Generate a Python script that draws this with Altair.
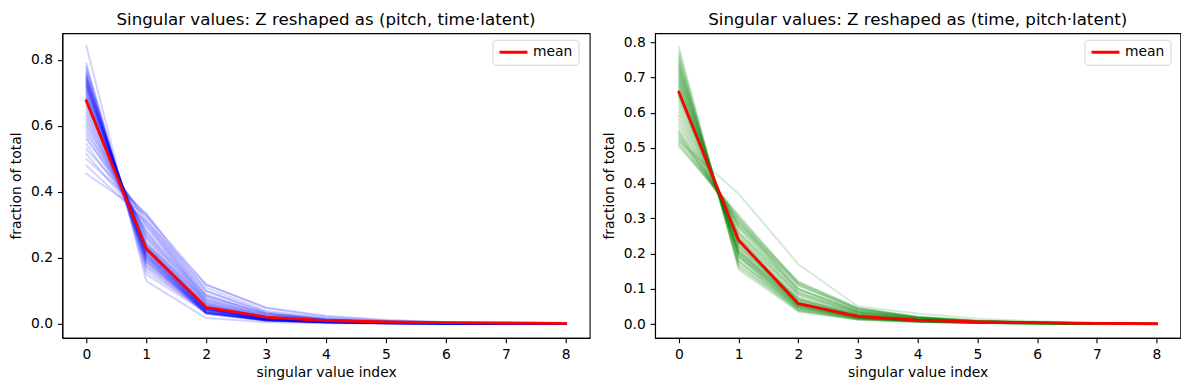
import altair as alt
import pandas as pd

sv_index = [0, 1, 2, 3, 4, 5, 6, 7, 8]
x_ticks = [0, 1, 2, 3, 4, 5, 6, 7, 8]
left_y_ticks = [0.0, 0.2, 0.4, 0.6, 0.8]
right_y_ticks = [0.0, 0.1, 0.2, 0.3, 0.4, 0.5, 0.6, 0.7, 0.8]

left_title = "Singular values: Z reshaped as (pitch, time·latent)"
right_title = "Singular values: Z reshaped as (time, pitch·latent)"
x_title = "singular value index"
y_title = "fraction of total"

# per-sample curves, Z reshaped as (pitch, time·latent)
pitch_runs = [
    [0.843, 0.130, 0.018, 0.005, 0.002, 0.001, 0.0006, 0.0003, 0.0001],
    [0.790, 0.150, 0.035, 0.012, 0.006, 0.003, 0.002, 0.001, 0.0005],
    [0.780, 0.170, 0.032, 0.010, 0.004, 0.002, 0.001, 0.0007, 0.0003],
    [0.775, 0.160, 0.040, 0.013, 0.006, 0.003, 0.0015, 0.001, 0.0005],
    [0.765, 0.180, 0.034, 0.011, 0.005, 0.002, 0.0013, 0.0008, 0.0003],
    [0.760, 0.190, 0.031, 0.010, 0.004, 0.002, 0.0012, 0.0007, 0.0003],
    [0.755, 0.175, 0.042, 0.015, 0.007, 0.003, 0.0016, 0.001, 0.0004],
    [0.750, 0.195, 0.034, 0.011, 0.005, 0.0025, 0.0013, 0.0008, 0.0003],
    [0.748, 0.200, 0.032, 0.011, 0.005, 0.002, 0.0012, 0.0007, 0.0003],
    [0.745, 0.185, 0.043, 0.014, 0.006, 0.003, 0.0015, 0.001, 0.0004],
    [0.740, 0.205, 0.035, 0.011, 0.005, 0.002, 0.0012, 0.0007, 0.0003],
    [0.738, 0.190, 0.045, 0.015, 0.006, 0.003, 0.0015, 0.001, 0.0004],
    [0.735, 0.210, 0.034, 0.011, 0.005, 0.0025, 0.0013, 0.0008, 0.0003],
    [0.730, 0.200, 0.044, 0.014, 0.006, 0.003, 0.0015, 0.001, 0.0004],
    [0.728, 0.215, 0.036, 0.012, 0.005, 0.002, 0.0012, 0.0007, 0.0003],
    [0.725, 0.205, 0.045, 0.014, 0.006, 0.003, 0.0014, 0.0009, 0.0004],
    [0.720, 0.220, 0.038, 0.012, 0.005, 0.0025, 0.0013, 0.0008, 0.0003],
    [0.718, 0.210, 0.046, 0.014, 0.006, 0.003, 0.0015, 0.001, 0.0004],
    [0.715, 0.225, 0.037, 0.012, 0.006, 0.0025, 0.0013, 0.0008, 0.0003],
    [0.710, 0.215, 0.048, 0.015, 0.006, 0.003, 0.0015, 0.001, 0.0004],
    [0.705, 0.230, 0.041, 0.013, 0.006, 0.0025, 0.0014, 0.0009, 0.0004],
    [0.700, 0.220, 0.050, 0.016, 0.007, 0.0035, 0.0017, 0.0011, 0.0005],
    [0.695, 0.235, 0.044, 0.014, 0.006, 0.003, 0.0015, 0.001, 0.0004],
    [0.690, 0.225, 0.053, 0.017, 0.008, 0.0035, 0.0018, 0.0011, 0.0005],
    [0.685, 0.240, 0.047, 0.015, 0.007, 0.003, 0.0016, 0.001, 0.0004],
    [0.680, 0.230, 0.056, 0.018, 0.008, 0.004, 0.002, 0.0012, 0.0005],
    [0.675, 0.250, 0.047, 0.015, 0.007, 0.003, 0.0016, 0.001, 0.0004],
    [0.670, 0.235, 0.060, 0.019, 0.008, 0.004, 0.002, 0.0013, 0.0006],
    [0.660, 0.260, 0.050, 0.016, 0.007, 0.0035, 0.0017, 0.0011, 0.0005],
    [0.650, 0.240, 0.068, 0.022, 0.010, 0.005, 0.0025, 0.0015, 0.0007],
    [0.640, 0.270, 0.056, 0.018, 0.008, 0.004, 0.002, 0.0012, 0.0005],
    [0.630, 0.245, 0.075, 0.026, 0.012, 0.006, 0.003, 0.002, 0.0008],
    [0.620, 0.280, 0.062, 0.020, 0.009, 0.0045, 0.0023, 0.0014, 0.0006],
    [0.610, 0.260, 0.080, 0.027, 0.012, 0.006, 0.003, 0.002, 0.0008],
    [0.600, 0.300, 0.062, 0.020, 0.009, 0.0045, 0.0023, 0.0014, 0.0006],
    [0.590, 0.270, 0.085, 0.030, 0.013, 0.006, 0.003, 0.002, 0.001],
    [0.580, 0.310, 0.068, 0.022, 0.010, 0.005, 0.0025, 0.0015, 0.0007],
    [0.570, 0.280, 0.090, 0.032, 0.014, 0.007, 0.0035, 0.002, 0.001],
    [0.560, 0.320, 0.074, 0.024, 0.011, 0.0055, 0.0027, 0.0017, 0.0008],
    [0.545, 0.290, 0.100, 0.035, 0.015, 0.0075, 0.0037, 0.0023, 0.001],
    [0.530, 0.330, 0.085, 0.030, 0.013, 0.006, 0.003, 0.002, 0.001],
    [0.515, 0.300, 0.110, 0.040, 0.018, 0.009, 0.004, 0.0025, 0.001],
    [0.500, 0.335, 0.100, 0.035, 0.015, 0.0075, 0.0037, 0.0023, 0.001],
    [0.480, 0.310, 0.120, 0.048, 0.022, 0.011, 0.005, 0.003, 0.0012],
    [0.455, 0.330, 0.118, 0.050, 0.025, 0.012, 0.006, 0.003, 0.001],
]
pitch_mean = [0.676, 0.228, 0.050, 0.021, 0.010, 0.006, 0.004, 0.003, 0.002]

# per-sample curves, Z reshaped as (time, pitch·latent)
time_runs = [
    [0.786, 0.155, 0.035, 0.012, 0.006, 0.003, 0.002, 0.001, 0.0005],
    [0.775, 0.160, 0.040, 0.014, 0.007, 0.003, 0.002, 0.001, 0.0005],
    [0.765, 0.170, 0.037, 0.013, 0.007, 0.004, 0.002, 0.001, 0.0005],
    [0.758, 0.165, 0.045, 0.016, 0.008, 0.004, 0.002, 0.001, 0.0005],
    [0.752, 0.180, 0.040, 0.014, 0.007, 0.003, 0.002, 0.001, 0.0005],
    [0.745, 0.175, 0.048, 0.017, 0.008, 0.004, 0.002, 0.001, 0.0005],
    [0.740, 0.190, 0.042, 0.015, 0.007, 0.003, 0.002, 0.001, 0.0005],
    [0.735, 0.180, 0.050, 0.018, 0.009, 0.004, 0.002, 0.001, 0.0005],
    [0.730, 0.195, 0.045, 0.016, 0.008, 0.004, 0.002, 0.001, 0.0005],
    [0.725, 0.190, 0.052, 0.019, 0.009, 0.004, 0.002, 0.001, 0.0005],
    [0.720, 0.200, 0.048, 0.017, 0.008, 0.004, 0.002, 0.001, 0.0005],
    [0.715, 0.195, 0.055, 0.020, 0.009, 0.004, 0.002, 0.001, 0.0005],
    [0.710, 0.205, 0.050, 0.018, 0.009, 0.004, 0.002, 0.001, 0.0005],
    [0.705, 0.200, 0.058, 0.021, 0.010, 0.005, 0.003, 0.0015, 0.0005],
    [0.700, 0.210, 0.052, 0.019, 0.009, 0.005, 0.003, 0.0015, 0.0005],
    [0.695, 0.205, 0.060, 0.022, 0.010, 0.005, 0.003, 0.0015, 0.0005],
    [0.690, 0.215, 0.055, 0.020, 0.010, 0.005, 0.003, 0.0015, 0.0005],
    [0.685, 0.210, 0.062, 0.023, 0.011, 0.005, 0.003, 0.0015, 0.0005],
    [0.680, 0.220, 0.058, 0.021, 0.010, 0.005, 0.003, 0.0015, 0.0005],
    [0.675, 0.225, 0.060, 0.022, 0.011, 0.005, 0.003, 0.0015, 0.0005],
    [0.670, 0.230, 0.055, 0.020, 0.010, 0.005, 0.003, 0.0015, 0.0005],
    [0.665, 0.220, 0.070, 0.026, 0.012, 0.006, 0.003, 0.0015, 0.0005],
    [0.660, 0.235, 0.060, 0.022, 0.011, 0.005, 0.003, 0.0015, 0.0005],
    [0.655, 0.230, 0.068, 0.025, 0.012, 0.006, 0.003, 0.0015, 0.0005],
    [0.650, 0.240, 0.062, 0.023, 0.011, 0.005, 0.003, 0.0015, 0.0005],
    [0.645, 0.235, 0.072, 0.027, 0.013, 0.006, 0.003, 0.0015, 0.0005],
    [0.640, 0.245, 0.065, 0.024, 0.012, 0.006, 0.003, 0.0015, 0.0005],
    [0.630, 0.250, 0.070, 0.026, 0.013, 0.006, 0.003, 0.0015, 0.0005],
    [0.620, 0.245, 0.085, 0.030, 0.013, 0.007, 0.004, 0.002, 0.001],
    [0.610, 0.260, 0.075, 0.028, 0.014, 0.007, 0.004, 0.002, 0.001],
    [0.600, 0.255, 0.090, 0.032, 0.014, 0.007, 0.004, 0.002, 0.001],
    [0.590, 0.270, 0.080, 0.030, 0.015, 0.007, 0.004, 0.002, 0.001],
    [0.580, 0.260, 0.100, 0.035, 0.016, 0.008, 0.004, 0.002, 0.001],
    [0.570, 0.280, 0.085, 0.032, 0.016, 0.008, 0.004, 0.002, 0.001],
    [0.560, 0.275, 0.100, 0.036, 0.017, 0.008, 0.004, 0.002, 0.001],
    [0.550, 0.290, 0.090, 0.034, 0.017, 0.008, 0.004, 0.002, 0.001],
    [0.545, 0.280, 0.110, 0.040, 0.018, 0.008, 0.004, 0.002, 0.001],
    [0.540, 0.295, 0.095, 0.036, 0.018, 0.008, 0.004, 0.002, 0.001],
    [0.535, 0.285, 0.115, 0.042, 0.019, 0.009, 0.005, 0.002, 0.001],
    [0.530, 0.300, 0.100, 0.038, 0.018, 0.008, 0.004, 0.002, 0.001],
    [0.525, 0.290, 0.120, 0.045, 0.020, 0.009, 0.005, 0.002, 0.001],
    [0.520, 0.370, 0.170, 0.050, 0.030, 0.015, 0.008, 0.004, 0.002],
    [0.515, 0.305, 0.110, 0.042, 0.020, 0.009, 0.005, 0.002, 0.001],
    [0.510, 0.300, 0.120, 0.046, 0.021, 0.010, 0.005, 0.002, 0.001],
    [0.505, 0.310, 0.115, 0.044, 0.020, 0.009, 0.005, 0.002, 0.001],
]
time_mean = [0.658, 0.238, 0.058, 0.022, 0.011, 0.006, 0.004, 0.002, 0.001]

FONT = "DejaVu Sans"


def long_df(runs):
    rows = []
    for r, vals in enumerate(runs):
        for i, v in zip(sv_index, vals):
            rows.append({"run": r, "idx": i, "frac": v})
    return pd.DataFrame(rows)


def panel(runs, mean, color, title, ydomain, yticks, width, legend_x):
    runs_df = long_df(runs)
    mean_df = pd.DataFrame({"idx": sv_index, "frac": mean, "series": ["mean"] * len(sv_index)})
    x = alt.X(
        "idx:Q",
        scale=alt.Scale(domain=[-0.4, 8.4], nice=False, zero=False),
        axis=alt.Axis(values=x_ticks, format="d", title=x_title, titlePadding=4),
    )
    y = alt.Y(
        "frac:Q",
        scale=alt.Scale(domain=ydomain, nice=False, zero=False),
        axis=alt.Axis(values=yticks, format=".1f", title=y_title,
                      minExtent=32, maxExtent=32, titlePadding=7),
    )
    lines = alt.Chart(runs_df).mark_line(
        strokeWidth=2, opacity=0.17, color=color, clip=True,
        strokeJoin="round", strokeCap="square",
    ).encode(x=x, y=y, detail="run:N")
    mean_line = alt.Chart(mean_df).mark_line(
        strokeWidth=2.8, clip=True, strokeJoin="round", strokeCap="square",
    ).encode(
        x=x, y=y,
        color=alt.Color(
            "series:N",
            scale=alt.Scale(domain=["mean"], range=["#ff0000"]),
            legend=alt.Legend(
                title=None, orient="none", legendX=legend_x, legendY=6.6,
                symbolType="stroke", symbolStrokeWidth=2.8, symbolSize=784,
                clipHeight=14,
                labelFontSize=13.9, labelFont=FONT, labelColor="black",
                padding=5.5, labelOffset=4, strokeColor="#d5d5d5",
                cornerRadius=3, fillColor="white",
            ),
        ),
    )
    return alt.layer(lines, mean_line).properties(
        width=width, height=305,
        title=alt.TitleParams(title, font=FONT, fontSize=16.67, fontWeight="normal",
                              anchor="middle", baseline="alphabetic", offset=-8.4,
                              color="black"),
    )


left = panel(pitch_runs, pitch_mean, "#0000ff", left_title,
             [-0.042, 0.881], left_y_ticks, 528, 430.7)
right = panel(time_runs, time_mean, "#008000", right_title,
              [-0.039, 0.826], right_y_ticks, 526, 430)

chart = alt.hconcat(left, right, spacing=10.4).resolve_scale(
    color="independent"
).resolve_legend(color="independent").properties(
    padding={"left": 0.4, "top": 3, "right": 0, "bottom": 0},
).configure_view(
    stroke="black", strokeWidth=1.1
).configure_axis(
    grid=False, domainColor="black", tickColor="black", labelColor="black",
    titleColor="black", labelFont=FONT, titleFont=FONT, labelFontSize=13.9,
    titleFontSize=13.9, titleFontWeight="normal", tickSize=4.9,
    labelPadding=4.9, domainWidth=1.1, tickWidth=1.1,
)

chart.save("out.html", embed_options={"renderer": "svg", "actions": False})
